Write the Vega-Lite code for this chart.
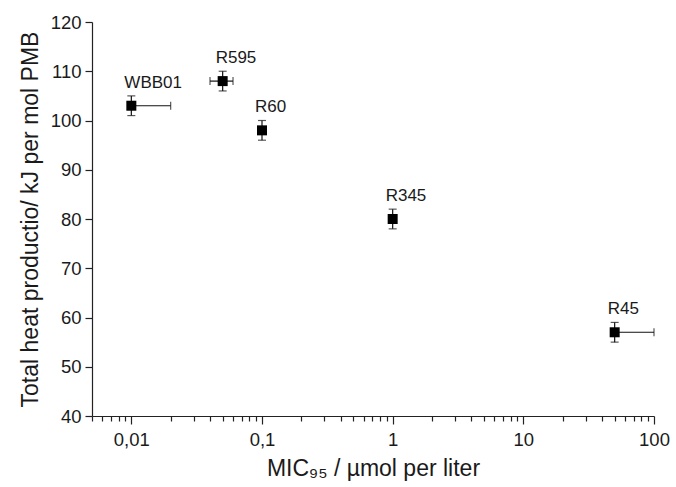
{
  "$schema": "https://vega.github.io/schema/vega-lite/v6.json",
  "width": 562,
  "height": 394,
  "autosize": "none",
  "padding": {"left": 92, "top": 22, "right": 22, "bottom": 71},
  "background": "white",
  "config": {
    "view": {"stroke": null},
    "font": "Liberation Sans",
    "axis": {
      "domainColor": "#222",
      "domainWidth": 1.2,
      "tickColor": "#222",
      "tickWidth": 1.2,
      "grid": false,
      "labelFont": "Liberation Sans",
      "titleFont": "Liberation Sans",
      "labelFontSize": 18.5,
      "titleFontSize": 23,
      "labelColor": "#1a1a1a",
      "titleColor": "#1a1a1a",
      "titleFontWeight": "normal",
      "labelFlush": false,
      "labelOverlap": false
    }
  },
  "data": {
    "values": [
      {"strain": "WBB01", "mic": 0.01, "micLo": 0.01, "micHi": 0.02, "heat": 103, "heatLo": 101, "heatHi": 105},
      {"strain": "R595", "mic": 0.05, "micLo": 0.04, "micHi": 0.06, "heat": 108, "heatLo": 106, "heatHi": 110},
      {"strain": "R60", "mic": 0.1, "micLo": 0.1, "micHi": 0.1, "heat": 98, "heatLo": 96, "heatHi": 100},
      {"strain": "R345", "mic": 1, "micLo": 1, "micHi": 1, "heat": 80, "heatLo": 78, "heatHi": 82},
      {"strain": "R45", "mic": 50, "micLo": 50, "micHi": 100, "heat": 57, "heatLo": 55, "heatHi": 59}
    ]
  },
  "layer": [
    {
      "mark": {"type": "errorbar", "ticks": {"size": 8, "thickness": 1.2, "color": "#111"}, "rule": {"strokeWidth": 1.2, "color": "#111"}},
      "encoding": {
        "x": {
          "field": "micLo", "type": "quantitative",
          "scale": {"type": "log", "domain": [0.005, 100], "nice": false},
          "title": "MIC₉₅ / µmol per liter",
          "axis": {
            "values": [0.005, 0.006, 0.007, 0.008, 0.009, 0.01, 0.02, 0.03, 0.04, 0.05, 0.06, 0.07, 0.08, 0.09, 0.1, 0.2, 0.3, 0.4, 0.5, 0.6, 0.7, 0.8, 0.9, 1, 2, 3, 4, 5, 6, 7, 8, 9, 10, 20, 30, 40, 50, 60, 70, 80, 90, 100],
            "format": "~g",
            "labelExpr": "indexof([0.01, 0.1, 1, 10, 100], datum.value) >= 0 ? replace(datum.label, '.', ',') : ''",
            "tickSize": {"condition": {"test": "indexof([0.01, 0.1, 1, 10, 100], datum.value) >= 0", "value": 8}, "value": 5},
            "labelPadding": 6,
            "titlePadding": 9
          }
        },
        "x2": {"field": "micHi"},
        "y": {
          "field": "heat", "type": "quantitative",
          "scale": {"domain": [40, 120], "nice": false},
          "title": "Total heat productio/ kJ per mol PMB",
          "axis": {
            "values": [40, 45, 50, 55, 60, 65, 70, 75, 80, 85, 90, 95, 100, 105, 110, 115, 120],
            "labelExpr": "datum.value % 10 === 0 ? datum.label : ''",
            "tickSize": {"condition": {"test": "datum.value % 10 === 0", "value": 7}, "value": 4},
            "labelPadding": 4,
            "titlePadding": 8
          }
        }
      }
    },
    {
      "mark": {"type": "errorbar", "ticks": {"size": 8, "thickness": 1.2, "color": "#111"}, "rule": {"strokeWidth": 1.2, "color": "#111"}},
      "encoding": {
        "x": {"field": "mic", "type": "quantitative", "title": "MIC₉₅ / µmol per liter"},
        "y": {"field": "heatLo", "type": "quantitative", "title": "Total heat productio/ kJ per mol PMB"},
        "y2": {"field": "heatHi"}
      }
    },
    {
      "mark": {"type": "point", "shape": "square", "filled": true, "size": 100, "color": "#000", "opacity": 1},
      "encoding": {
        "x": {"field": "mic", "type": "quantitative", "title": "MIC₉₅ / µmol per liter"},
        "y": {"field": "heat", "type": "quantitative", "title": "Total heat productio/ kJ per mol PMB"}
      }
    },
    {
      "mark": {"type": "text", "align": "left", "baseline": "alphabetic", "dx": -7, "dy": -18, "fontSize": 17, "color": "#1a1a1a", "font": "Liberation Sans"},
      "encoding": {
        "x": {"field": "mic", "type": "quantitative", "title": "MIC₉₅ / µmol per liter"},
        "y": {"field": "heat", "type": "quantitative", "title": "Total heat productio/ kJ per mol PMB"},
        "text": {"field": "strain"}
      }
    }
  ]
}
